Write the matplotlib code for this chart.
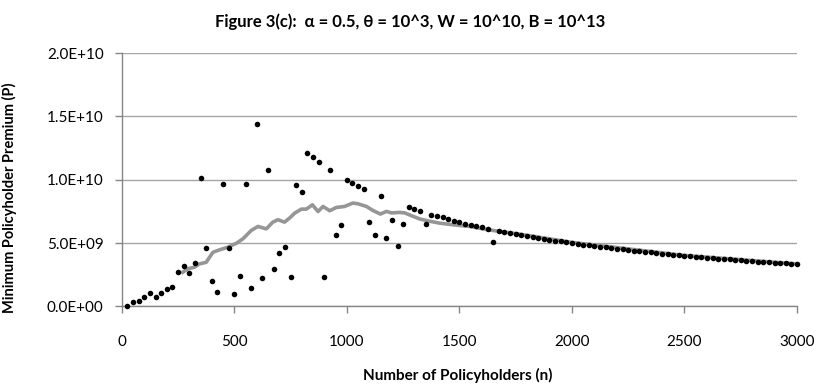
import matplotlib
matplotlib.use("Agg")
import matplotlib.pyplot as plt
from matplotlib.ticker import FuncFormatter, MultipleLocator

plt.rcParams["font.family"] = ["Lato", "DejaVu Sans"]

# --- Style ---
TEXT = "#000000"
GRID = "#a6a6a6"
AXIS = "#868686"
TREND = "#969696"

# ---------------------------------------------------------------------------
# Data (premium values in units of 1e9)
# ---------------------------------------------------------------------------
n_points = list(range(25, 3001, 25))
premium_e9 = [
    0.02, 0.35, 0.43, 0.74, 1.08, 0.71, 1.03, 1.40, 1.56, 2.72,      # 25-250
    3.20, 2.61, 3.43, 10.16, 4.64, 2.00, 1.16, 9.63, 4.64, 0.95,     # 275-500
    2.40, 9.63, 1.42, 14.37, 2.20, 10.80, 2.93, 4.25, 4.72, 2.35,    # 525-750
    9.55, 9.02, 12.14, 11.76, 11.42, 2.35, 10.80, 5.67, 6.41, 10.00, # 775-1000
    9.76, 9.52, 9.29, 6.68, 5.62, 8.68, 5.36, 6.84, 4.78, 6.52,      # 1025-1250
    7.83, 7.65, 7.52, 6.54, 7.25, 7.12, 7.02, 6.91, 6.78, 6.68,      # 1275-1500
    6.54, 6.44, 6.33, 6.23, 6.12, 5.12, 5.93, 5.88, 5.80, 5.71,      # 1525-1750
    5.63, 5.56, 5.48, 5.41, 5.33, 5.26, 5.19, 5.13, 5.06, 5.00,      # 1775-2000
    4.94, 4.88, 4.82, 4.76, 4.71, 4.65, 4.60, 4.55, 4.49, 4.44,      # 2025-2250
    4.40, 4.35, 4.30, 4.26, 4.21, 4.17, 4.12, 4.08, 4.04, 4.00,      # 2275-2500
    3.96, 3.92, 3.88, 3.85, 3.81, 3.77, 3.74, 3.70, 3.67, 3.64,      # 2525-2750
    3.60, 3.57, 3.54, 3.51, 3.48, 3.45, 3.42, 3.39, 3.36, 3.33,      # 2775-3000
]

# grey moving-average line
trend_n = [271, 293, 323, 345, 375, 405, 434, 471, 509, 538, 575, 605, 642,
           671, 694, 723, 746, 768, 798, 820, 847, 872, 894, 924, 953, 990,
           1027, 1049, 1087, 1116, 1149, 1176, 1198, 1235, 1257, 1294, 1324,
           1368, 1413, 1472, 1546, 1620, 1672, 1750, 2000, 2500, 3000]
trend_e9 = [2.69, 2.96, 3.09, 3.35, 3.48, 4.27, 4.46, 4.67, 4.98, 5.33, 5.99,
            6.31, 6.12, 6.65, 6.84, 6.65, 6.98, 7.36, 7.68, 7.68, 8.02, 7.49,
            7.89, 7.55, 7.81, 7.89, 8.16, 8.10, 7.89, 7.57, 7.29, 7.50, 7.38,
            7.42, 7.38, 7.11, 6.90, 6.72, 6.57, 6.44, 6.31, 6.07, 5.93, 5.75,
            5.05, 4.02, 3.35]

Y_TICKS = [0, 5e9, 1e10, 1.5e10, 2e10]

# ---------------------------------------------------------------------------
# Chart
# ---------------------------------------------------------------------------
fig = plt.figure(figsize=(8.2, 3.88), dpi=100, facecolor="white")
ax = fig.add_axes([0.1485, 0.2105, 0.8235, 0.6525])

ax.plot(trend_n, [v * 1e9 for v in trend_e9], color=TREND, linewidth=2.6,
        zorder=2, solid_joinstyle="round")
ax.scatter(n_points, [v * 1e9 for v in premium_e9], s=16, color="black",
           linewidth=0, zorder=3, clip_on=False)

ax.set_xlim(0, 3000)
ax.set_ylim(0, 2e10)
ax.xaxis.set_major_locator(MultipleLocator(500))
ax.set_yticks(Y_TICKS)
ax.yaxis.set_major_formatter(FuncFormatter(lambda v, p: f"{v:.1E}"))

ax.grid(axis="y", color=GRID, linewidth=1.0)
ax.set_axisbelow(True)
for side in ("top", "right"):
    ax.spines[side].set_visible(False)
for side in ("left", "bottom"):
    ax.spines[side].set_color(AXIS)
    ax.spines[side].set_linewidth(1.0)

ax.tick_params(axis="x", direction="out", length=5, width=1, color=AXIS,
               pad=16, labelsize=11, labelcolor=TEXT)
ax.tick_params(axis="y", direction="out", length=5, width=1, color=AXIS,
               pad=8, labelsize=11, labelcolor=TEXT)

fig.text(0.5, 0.945, "Figure 3(c):  α = 0.5, θ = 10^3, W = 10^10, B = 10^13",
         ha="center", va="center", fontsize=12, fontweight="bold", color=TEXT)
fig.text(0.558, 0.033, "Number of Policyholders (n)",
         ha="center", va="center", fontsize=11, fontweight="bold", color=TEXT)
fig.text(0.012, 0.49, "Minimum Policyholder Premium (P)", rotation=90,
         ha="center", va="center", fontsize=10.5, fontweight="bold", color=TEXT)

fig.savefig("out.png", dpi=100, facecolor="white")
